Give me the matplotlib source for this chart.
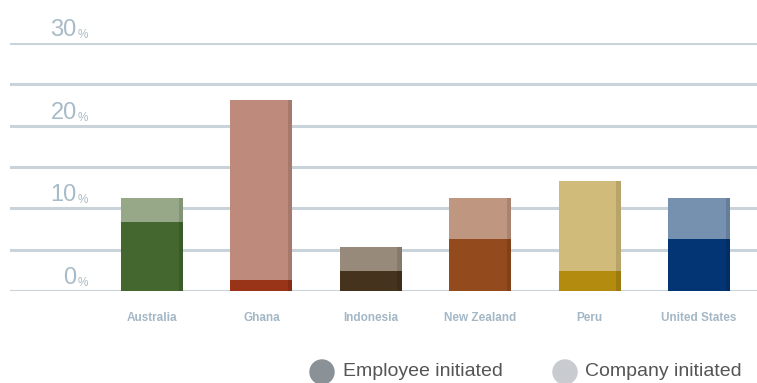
import numpy as np
import matplotlib
matplotlib.use("Agg")
import matplotlib.pyplot as plt

plt.rcParams["font.family"] = ["Liberation Sans", "DejaVu Sans"]

# data (percent)
countries = ["Australia", "Ghana", "Indonesia", "New Zealand", "Peru", "United States"]
employee = [8.3, 1.3, 2.4, 6.3, 2.4, 6.3]
company = [2.9, 21.8, 2.9, 4.9, 10.9, 4.9]
dark_colors = ["#44672f", "#9a3418", "#45331e", "#934a1c", "#b38c0f", "#033474"]
light_colors = ["#96a888", "#bd8a7b", "#978a7b", "#bf9680", "#d1bb7a", "#7690b0"]
yticks = [0, 10, 20, 30]

W, H = 757, 383
fig = plt.figure(figsize=(W / 100, H / 100), dpi=100)
ax = fig.add_axes([10 / W, (H - 291) / H, 747 / W, (291 - 43) / H])

x = np.arange(len(countries))
width = 0.567

for v in np.arange(0, 31, 5):
    ax.axhline(v, color="#c9d3da", lw=2.2, zorder=0)

ax.bar(x, employee, width, color=dark_colors, zorder=2)
ax.bar(x, company, width, bottom=employee, color=light_colors, zorder=2)
# darker right edge for a bit of depth
totals = np.array(employee) + np.array(company)
ax.bar(x + width / 2 - 0.02, totals, 0.04, color="black", alpha=0.12, zorder=3)

ax.set_xlim(-1.298, 5.53)
ax.set_ylim(0, 30)
ax.axis("off")

# y labels sit above their gridlines
for t in yticks:
    ax.annotate(str(t), xy=(0, t), xycoords=("axes fraction", "data"),
                xytext=(48, 1.5), textcoords="offset points",
                ha="right", va="bottom", fontsize=17, color="#a8bbc8")
    ax.annotate("%", xy=(0, t), xycoords=("axes fraction", "data"),
                xytext=(48.5, 1.5), textcoords="offset points",
                ha="left", va="bottom", fontsize=8.5, color="#a8bbc8")

for xi, name in zip(x, countries):
    ax.text(xi, -3.3, name, ha="center", va="center", fontsize=8.5,
            fontweight="bold", color="#a3b7c6")

# legend
fig.text(343 / W, 1 - 372 / H, "Employee initiated", fontsize=14,
         color="#555555", va="center", ha="left")
fig.text(585 / W, 1 - 372 / H, "Company initiated", fontsize=14,
         color="#555555", va="center", ha="left")
ax.scatter([322 / W, 565 / W], [1 - 372 / H, 1 - 372 / H], s=300,
           color=["#8a9298", "#c8ccd0"], transform=fig.transFigure,
           clip_on=False, zorder=5)

fig.savefig("out.png", dpi=100)
